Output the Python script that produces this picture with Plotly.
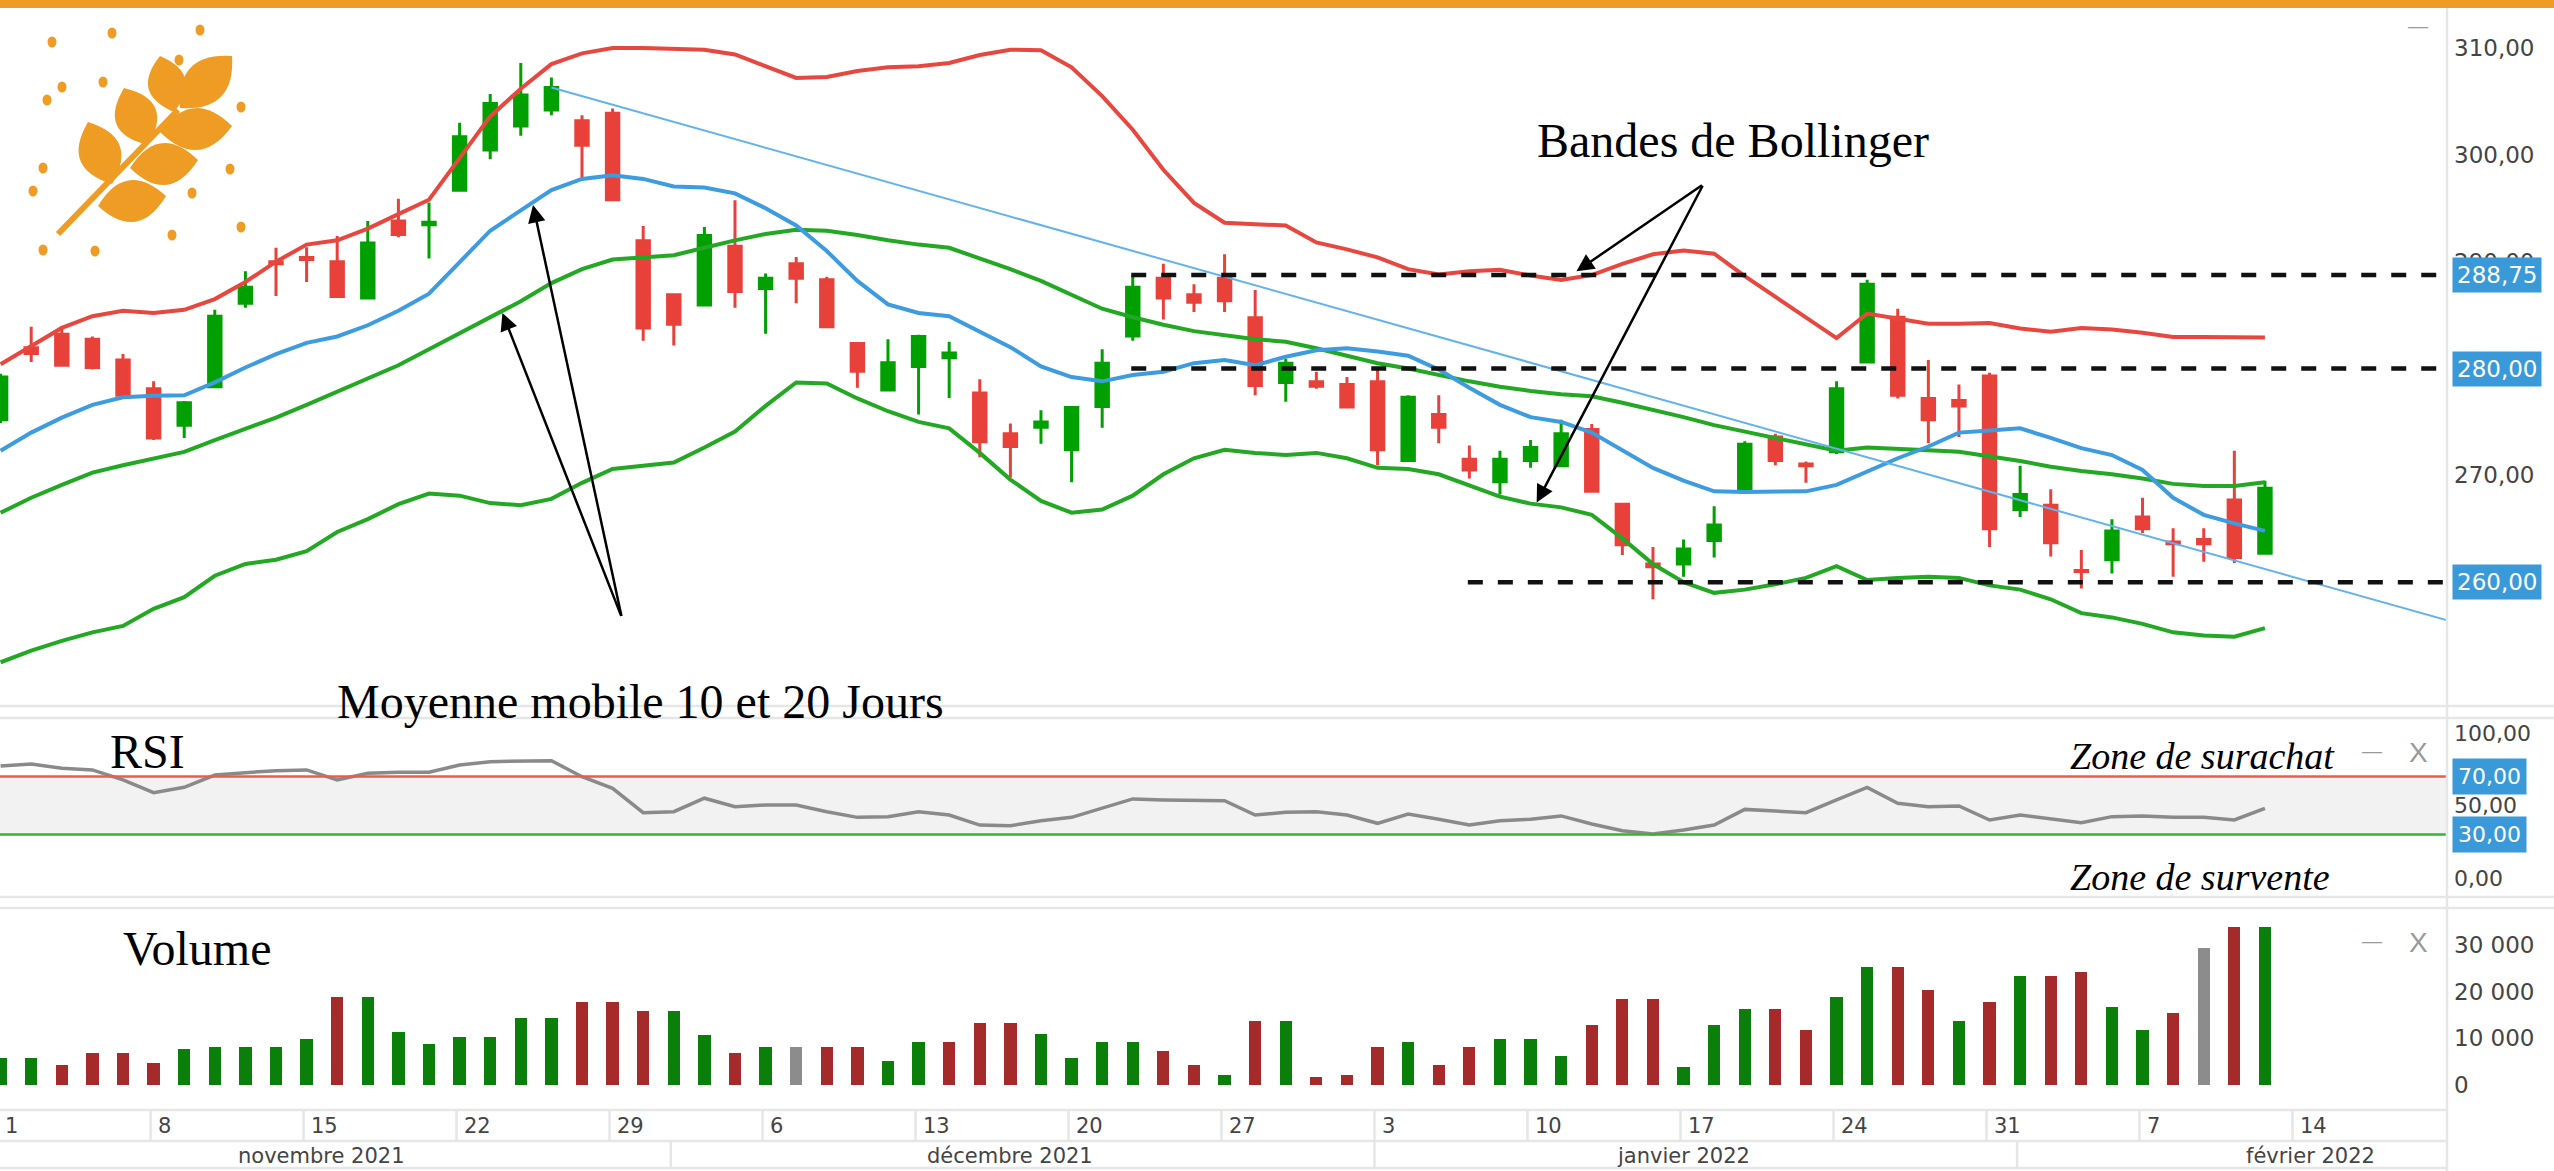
import plotly.graph_objects as go
import pandas as pd

W, H = 2554, 1171

# ---------------- data ----------------
calendar = pd.bdate_range("2021-11-01", "2022-02-28")
dates = pd.bdate_range("2021-11-01", "2022-02-11")

open_ = [275.2, 281.95, 283.2, 282.75, 280.8, 278.1, 274.7, 278.3, 286.1, 290.0,
         290.4, 290.0, 286.6, 293.8, 293.45, 296.7, 300.45, 302.7, 304.2, 303.2,
         303.9, 291.95, 286.9, 285.95, 291.45, 287.5, 289.8, 288.3, 282.35, 278.0,
         280.2, 281.0, 277.7, 273.9, 274.5, 272.4, 276.45, 283.05, 288.45, 286.9,
         288.45, 284.75, 278.7, 278.75, 278.5, 278.75, 271.4, 275.7, 271.5, 269.4,
         271.4, 270.9, 274.3, 267.3, 261.7, 261.7, 263.9, 268.6, 273.6, 271.05,
         272.2, 280.6, 284.8, 277.2, 277.0, 279.3, 266.8, 267.2, 261.1, 262.1,
         266.1, 263.75, 264.0, 267.7, 262.7]
high = [279.5, 283.9, 283.95, 283.0, 281.35, 278.8, 276.95, 285.5, 289.1, 291.3,
        291.35, 292.4, 293.8, 295.9, 295.55, 303.0, 305.7, 308.6, 307.25, 303.7,
        304.35, 293.35, 286.9, 293.25, 295.75, 288.9, 290.45, 288.6, 282.35, 282.75,
        283.15, 282.5, 279.0, 274.85, 276.1, 276.4, 281.8, 288.7, 289.8, 287.9,
        290.7, 287.35, 280.9, 279.7, 279.2, 280.0, 277.5, 277.5, 272.8, 272.3,
        273.3, 275.2, 274.8, 267.3, 263.3, 264.0, 267.1, 273.2, 273.9, 271.3,
        278.8, 288.3, 285.6, 280.8, 278.5, 279.6, 270.9, 268.7, 263.0, 265.9,
        267.9, 265.05, 265.05, 272.3, 269.5]
low = [274.9, 280.6, 280.2, 279.9, 277.3, 273.3, 273.5, 278.2, 285.7, 286.8,
       288.1, 286.6, 286.6, 292.3, 290.3, 296.6, 299.6, 301.8, 303.7, 297.8,
       295.7, 282.6, 282.15, 285.9, 285.7, 283.25, 286.1, 283.8, 278.2, 277.9,
       275.7, 277.25, 271.7, 269.8, 272.95, 269.35, 274.45, 282.6, 284.6, 285.3,
       285.3, 277.5, 276.9, 278.1, 276.4, 270.95, 271.3, 273.0, 269.7, 268.2,
       270.7, 270.9, 268.5, 262.55, 258.4, 260.5, 262.3, 268.5, 270.95, 269.3,
       272.0, 280.5, 277.2, 273.0, 273.6, 263.3, 266.1, 262.4, 259.4, 260.8,
       264.6, 260.5, 261.9, 261.8, 262.7]
close = [279.2, 281.4, 280.3, 280.1, 277.5, 273.5, 276.8, 284.9, 287.6, 289.8,
         290.2, 286.75, 291.75, 292.55, 293.7, 301.7, 304.8, 305.6, 306.3, 300.9,
         295.8, 283.8, 284.15, 292.45, 287.2, 288.45, 288.45, 283.9, 279.75, 280.55,
         283.0, 281.45, 273.15, 272.7, 275.0, 276.35, 280.5, 287.6, 286.6, 286.2,
         286.35, 278.4, 280.5, 278.35, 276.4, 272.4, 277.3, 274.5, 270.5, 271.5,
         272.6, 273.9, 268.5, 263.5, 261.45, 263.1, 265.35, 272.9, 271.4, 270.9,
         278.1, 287.9, 277.5, 275.2, 276.5, 265.0, 268.2, 263.7, 261.0, 264.8,
         265.0, 263.6, 263.6, 262.3, 268.8]

bb_upper = [280.4, 282.1, 283.8, 284.9, 285.4, 285.2, 285.5, 286.5, 288.1, 290.0,
            291.6, 292.0, 293.1, 294.45, 295.8, 299.7, 303.6, 306.2, 308.5, 309.5,
            310.0, 310.0, 309.9, 309.85, 309.4, 308.25, 307.2, 307.3, 307.85, 308.2,
            308.3, 308.6, 309.35, 309.85, 309.8, 308.2, 305.5, 302.35, 298.6, 295.5,
            293.65, 293.5, 293.4, 291.8, 291.15, 290.4, 289.3, 288.8, 289.1, 289.25,
            288.7, 288.3, 288.75, 289.8, 290.7, 291.05, 290.75, 288.65, 286.7, 284.7,
            282.85, 285.15, 284.7, 284.2, 284.2, 284.25, 283.75, 283.45, 283.8, 283.65,
            283.35, 282.95, 282.95, 282.95, 282.9]
ma10 = [272.3, 274.0, 275.4, 276.6, 277.3, 277.45, 277.5, 278.7, 280.1, 281.35,
        282.4, 283.0, 284.05, 285.4, 287.0, 289.95, 292.9, 294.8, 296.7, 297.75,
        298.1, 297.75, 297.05, 296.95, 296.4, 295.0, 293.4, 291.0, 288.2, 286.0,
        285.2, 284.9, 283.5, 282.0, 280.2, 279.2, 278.8, 279.4, 279.7, 280.5,
        280.8, 280.3, 281.1, 281.7, 281.9, 281.6, 281.2, 279.9, 278.2, 276.6,
        275.45, 275.0, 274.0, 272.3, 270.7, 269.5, 268.5, 268.45, 268.45, 268.5,
        269.1, 270.35, 271.6, 272.7, 274.0, 274.2, 274.4, 273.5, 272.55, 271.9,
        270.5, 267.9, 266.3, 265.5, 264.8]
ma20 = [266.5, 267.9, 269.1, 270.25, 270.95, 271.6, 272.2, 273.3, 274.35, 275.4,
        276.6, 277.8, 279.1, 280.3, 281.8, 283.3, 284.8, 286.3, 288.0, 289.3,
        290.2, 290.4, 290.6, 291.3, 292.0, 292.6, 293.0, 292.9, 292.5, 292.0,
        291.6, 291.3, 290.3, 289.3, 288.2, 286.9, 285.6, 284.8, 284.1, 283.5,
        283.1, 282.75, 282.5, 281.9, 281.2, 280.5, 280.0, 279.4, 278.8, 278.3,
        277.9, 277.6, 277.4, 276.8, 276.15, 275.45, 274.7, 274.1, 273.5, 272.9,
        272.3, 272.6, 272.5, 272.35, 272.2, 271.8, 271.35, 270.8, 270.4, 270.1,
        269.7, 269.2, 269.0, 269.0, 269.35]
bb_lower = [252.5, 253.6, 254.5, 255.3, 255.9, 257.5, 258.6, 260.6, 261.7, 262.1,
            262.9, 264.7, 265.9, 267.3, 268.3, 268.1, 267.4, 267.2, 267.8, 269.3,
            270.6, 270.9, 271.2, 272.6, 274.1, 276.5, 278.7, 278.6, 277.2, 276.0,
            275.0, 274.4, 272.1, 269.6, 267.6, 266.5, 266.8, 268.1, 270.1, 271.6,
            272.4, 272.1, 271.9, 272.1, 271.6, 270.7, 270.6, 270.1, 269.0, 268.0,
            267.35, 267.0, 266.3, 264.1, 261.7, 260.0, 259.0, 259.3, 259.8, 260.4,
            261.5, 260.2, 260.4, 260.5, 260.4, 259.7, 259.3, 258.4, 257.1, 256.7,
            256.1, 255.3, 255.0, 254.9, 255.7]

rsi = [77.2, 78.6, 75.6, 74.5, 67.6, 58.8, 62.5, 71.0, 72.6, 74.0,
       74.5, 67.6, 72.2, 72.9, 72.9, 77.9, 80.2, 80.7, 80.9, 69.8,
       61.8, 45.0, 45.7, 55.0, 49.2, 50.3, 50.3, 45.7, 41.8, 42.3,
       45.7, 43.4, 36.5, 36.1, 39.5, 41.8, 48.0, 54.5, 53.8, 53.3,
       53.3, 43.4, 45.3, 45.7, 43.4, 37.7, 44.1, 40.5, 36.5, 39.5,
       40.5, 42.8, 37.2, 32.6, 30.3, 33.1, 36.5, 47.3, 46.4, 45.0,
       53.8, 62.5, 51.5, 49.2, 49.7, 40.0, 43.4, 40.5, 38.1, 42.3,
       42.8, 41.8, 41.8, 40.0, 48.0]

volume = [5700, 5700, 4280, 6780, 6780, 4780, 7710, 8210, 8210, 8210,
          9780, 18920, 18920, 11280, 8780, 10210, 10210, 14280, 14280, 17850,
          17850, 15850, 15850, 10710, 6780, 8210, 8210, 8210, 8210, 5210,
          9280, 9280, 13350, 13350, 10850, 5710, 9280, 9280, 7280, 4280,
          2140, 13780, 13780, 1780, 2140, 8210, 9280, 4280, 8210, 9780,
          9780, 6210, 12850, 18350, 18350, 3780, 12850, 16200, 16200, 11780,
          18920, 25340, 25340, 20340, 13780, 17850, 23340, 23340, 24270, 16780,
          11780, 15350, 29270, 33900, 33900]

levels = [288.75, 280.00, 260.00]
level_start = ["2021-12-22", "2021-12-22", "2022-01-06"]
trend_dates = ["2021-11-25", "2022-02-21"]
trend_values = [306.3, 256.4]
price_ticks = [260, 270, 280, 290, 300, 310]
rsi_ticks = [0, 50, 100]
rsi_bounds = [30, 70]
vol_ticks = [0, 10000, 20000, 30000]
month_names = ["janvier", "février", "mars", "avril", "mai", "juin", "juillet",
               "août", "septembre", "octobre", "novembre", "décembre"]

n = len(dates)
for arr in (open_, high, low, close, bb_upper, ma10, ma20, bb_lower, rsi, volume):
    assert len(arr) == n, len(arr)

pos = {d: i for i, d in enumerate(calendar)}
x = [pos[d] for d in dates]

# ---------------- styles ----------------
GREEN_C = "#00a000"
RED_C = "#e8413a"
RED_L = "#e8473f"
BLUE_L = "#3d9be0"
GREEN_L = "#22a822"
VOL_G, VOL_R, VOL_N = "#0a800a", "#a52a2a", "#8c8c8c"
ORANGE = "#ef9c25"
SEP = "#e6e6e6"
LBL = "#444444"
AXFONT = "DejaVu Sans"
SERIF = "Liberation Serif"
BOXBLUE = "#3a9ad9"

def px(v):
    return v / W

def py(v):
    return 1 - v / H

XR = [-0.02, 79.95]
XDOM = [0, 2447 / W]

prev = [open_[0]] + close[:-1]
vol_colors = [VOL_G if c > p else (VOL_R if c < p else VOL_N) for c, p in zip(close, prev)]

fig = go.Figure()

# price panel
fig.add_trace(go.Candlestick(
    x=x, open=open_, high=high, low=low, close=close, xaxis="x", yaxis="y",
    increasing=dict(line=dict(color=GREEN_C, width=3), fillcolor=GREEN_C),
    decreasing=dict(line=dict(color=RED_C, width=3), fillcolor=RED_C),
    whiskerwidth=0, showlegend=False, hoverinfo="skip"))
for series, col in ((bb_upper, RED_L), (bb_lower, GREEN_L), (ma20, GREEN_L), (ma10, BLUE_L)):
    fig.add_trace(go.Scatter(x=x, y=series, mode="lines", xaxis="x", yaxis="y",
                             line=dict(color=col, width=4), showlegend=False, hoverinfo="skip"))
fig.add_trace(go.Scatter(x=[pos[pd.Timestamp(d)] for d in trend_dates], y=trend_values,
                         mode="lines", xaxis="x", yaxis="y",
                         line=dict(color="#62b2ec", width=2), showlegend=False, hoverinfo="skip"))
for lv, st in zip(levels, level_start):
    fig.add_trace(go.Scatter(x=[pos[pd.Timestamp(st)] - 0.05, XR[1] + 1], y=[lv, lv],
                             mode="lines", xaxis="x", yaxis="y",
                             line=dict(color="#111111", width=4.5, dash="15px,15px"),
                             showlegend=False, hoverinfo="skip"))

# RSI panel
fig.add_trace(go.Scatter(x=x, y=rsi, mode="lines", xaxis="x2", yaxis="y2",
                         line=dict(color="#8a8a8a", width=3.5), showlegend=False, hoverinfo="skip"))

# volume panel
fig.add_trace(go.Bar(x=x, y=volume, marker=dict(color=vol_colors, line=dict(width=0)),
                     width=0.4, xaxis="x3", yaxis="y3", showlegend=False, hoverinfo="skip"))

axis_common = dict(showgrid=False, zeroline=False, showline=False, ticks="")
yfont = dict(family=AXFONT, size=23, color=LBL)

fig.update_layout(
    width=W, height=H, margin=dict(l=0, r=0, t=0, b=0),
    paper_bgcolor="white", plot_bgcolor="white",
    separators=", ", boxgap=0.42, bargap=0,
    showlegend=False,
    xaxis=dict(domain=XDOM, range=XR, visible=False, anchor="y", rangeslider=dict(visible=False)),
    xaxis2=dict(domain=XDOM, range=XR, visible=False, anchor="y2"),
    xaxis3=dict(domain=XDOM, range=XR, visible=False, anchor="y3"),
    yaxis=dict(domain=[py(705), py(8)], range=[248.5, 313.75], side="right", anchor="x",
               tickvals=price_ticks, tickformat=".2f", tickfont=yfont,
               ticklabelstandoff=6, **axis_common),
    yaxis2=dict(domain=[py(897), py(718)], range=[-13.1, 110.3], side="right", anchor="x2",
                tickvals=rsi_ticks, tickformat=".2f", tickfont=dict(family=AXFONT, size=22, color=LBL),
                ticklabelstandoff=6, **axis_common),
    yaxis3=dict(domain=[py(1110), py(908)], range=[-5350, 37900], side="right", anchor="x3",
                tickvals=vol_ticks, tickformat=",.0f", tickfont=yfont,
                ticklabelstandoff=6, **axis_common),
)

shapes = []
# orange top bar
shapes.append(dict(type="rect", xref="paper", yref="paper", x0=0, x1=1, y0=py(8), y1=1,
                   fillcolor=ORANGE, line=dict(width=0), layer="above"))
# RSI zone band and bounds
shapes.append(dict(type="rect", xref="x2 domain", yref="y2", x0=0, x1=1,
                   y0=rsi_bounds[0], y1=rsi_bounds[1], fillcolor="#f2f2f2",
                   line=dict(width=0), layer="below"))
shapes.append(dict(type="line", xref="x2 domain", yref="y2", x0=0, x1=1,
                   y0=rsi_bounds[1], y1=rsi_bounds[1], line=dict(color="#ee5a52", width=2.5)))
shapes.append(dict(type="line", xref="x2 domain", yref="y2", x0=0, x1=1,
                   y0=rsi_bounds[0], y1=rsi_bounds[0], line=dict(color="#33b533", width=2.5)))
# panel separators
for yy in (706, 718, 897, 908):
    shapes.append(dict(type="line", xref="paper", yref="paper", x0=0, x1=1, y0=py(yy), y1=py(yy),
                       line=dict(color=SEP, width=2.5)))
for yy in (1110, 1141, 1168):
    shapes.append(dict(type="line", xref="paper", yref="paper", x0=0, x1=px(2447), y0=py(yy), y1=py(yy),
                       line=dict(color=SEP, width=2.5)))
shapes.append(dict(type="line", xref="paper", yref="paper", x0=px(2447), x1=px(2447), y0=0, y1=py(8),
                   line=dict(color=SEP, width=2.5)))

annotations = []
# day ticks (Mondays) and month rows
for i, d in enumerate(calendar):
    if i > XR[1]:
        break
    if d.weekday() == 0:
        shapes.append(dict(type="line", xref="x3", yref="paper", x0=i - 0.1, x1=i - 0.1,
                           y0=py(1141), y1=py(1110), line=dict(color=SEP, width=2.5)))
        annotations.append(dict(x=i, xref="x3", y=py(1126), yref="paper", text=str(d.day),
                                xanchor="left", yanchor="middle", xshift=2, showarrow=False,
                                font=dict(family=AXFONT, size=21, color=LBL)))
months = {}
for i, d in enumerate(calendar):
    months.setdefault((d.year, d.month), []).append(i)
for (yr, mo), idxs in months.items():
    first, last = idxs[0], idxs[-1]
    if first > 0:
        shapes.append(dict(type="line", xref="x3", yref="paper", x0=first - 0.1, x1=first - 0.1,
                           y0=py(1168), y1=py(1141), line=dict(color=SEP, width=2.5)))
    annotations.append(dict(x=(first + last) / 2, xref="x3", y=py(1156), yref="paper",
                            text=f"{month_names[mo - 1]} {yr}", showarrow=False,
                            xanchor="center", yanchor="middle",
                            font=dict(family=AXFONT, size=21, color=LBL)))

# logo (wheat ear)
def leaf(bx, by, tx, ty, hw):
    mx, my = (bx + tx) / 2, (by + ty) / 2
    dx, dy = tx - bx, ty - by
    L = (dx * dx + dy * dy) ** 0.5
    nx, ny = -dy / L * 2 * hw, dx / L * 2 * hw
    pts = [(bx, by), (mx + nx, my + ny), (tx, ty), (mx - nx, my - ny)]
    p = [(px(a), py(b)) for a, b in pts]
    return (f"M {p[0][0]},{p[0][1]} Q {p[1][0]},{p[1][1]} {p[2][0]},{p[2][1]} "
            f"Q {p[3][0]},{p[3][1]} {p[0][0]},{p[0][1]} Z")

leaves = [(180, 108, 232, 56, 21), (174, 112, 160, 56, 19), (160, 132, 232, 126, 21),
          (148, 145, 124, 88, 21), (130, 168, 198, 160, 21), (112, 184, 88, 122, 21),
          (98, 206, 166, 196, 21)]
for bx, by, tx, ty, hw in leaves:
    shapes.append(dict(type="path", xref="paper", yref="paper", path=leaf(bx, by, tx, ty, hw),
                       fillcolor=ORANGE, line=dict(width=0)))
shapes.append(dict(type="line", xref="paper", yref="paper", x0=px(58), y0=py(234), x1=px(178),
                   y1=py(110), line=dict(color=ORANGE, width=6)))
dots = [(52, 42), (112, 33), (200, 30), (179, 60), (62, 87), (103, 82), (47, 100), (241, 107),
        (43, 168), (230, 169), (33, 191), (192, 193), (241, 227), (172, 235), (43, 250), (95, 251)]
for dx_, dy_ in dots:
    shapes.append(dict(type="circle", xref="paper", yref="paper", x0=px(dx_ - 4.5), x1=px(dx_ + 4.5),
                       y0=py(dy_ + 5.5), y1=py(dy_ - 5.5), fillcolor=ORANGE, line=dict(width=0)))

# price level boxes
for lv in levels:
    annotations.append(dict(x=px(2452), xref="paper", y=lv, yref="y", text=f"{lv:.2f}".replace(".", ","),
                            xanchor="left", yanchor="middle", showarrow=False, bgcolor=BOXBLUE,
                            borderpad=4, font=dict(family=AXFONT, size=23, color="white")))
for b in rsi_bounds:
    annotations.append(dict(x=px(2452), xref="paper", y=b, yref="y2", text=f"{b:.2f}".replace(".", ","),
                            xanchor="left", yanchor="middle", showarrow=False, bgcolor=BOXBLUE,
                            borderpad=5, font=dict(family=AXFONT, size=22, color="white")))

# text labels
def txt(t, xx, yy, size=48, italic=False):
    annotations.append(dict(x=px(xx), y=py(yy), xref="paper", yref="paper",
                            text=f"<i>{t}</i>" if italic else t, showarrow=False,
                            xanchor="center", yanchor="middle",
                            font=dict(family=SERIF, size=size, color="black")))

txt("Bandes de Bollinger", 1733, 141)
txt("Moyenne mobile 10 et 20 Jours", 640, 701)
txt("RSI", 147, 751)
txt("Volume", 197, 948)
txt("Zone de surachat", 2202, 756, size=38, italic=True)
txt("Zone de survente", 2200, 877, size=38, italic=True)

# arrows
def arrow(hx, hy, tx, ty):
    annotations.append(dict(x=hx, y=hy, xref="x", yref="y", ax=tx, ay=ty, axref="x", ayref="y",
                            text="", showarrow=True, arrowhead=2, arrowsize=1.4, arrowwidth=2.5,
                            arrowcolor="black", standoff=0, startstandoff=0))

arrow(17.4, 295.3, 20.3, 256.7)
arrow(16.4, 285.2, 20.3, 256.7)
arrow(51.5, 289.1, 55.65, 297.25)
arrow(50.2, 267.45, 55.65, 297.25)

# window icons
def icon(t, xx, yy, size=24):
    annotations.append(dict(x=px(xx), y=py(yy), xref="paper", yref="paper", text=t, showarrow=False,
                            xanchor="center", yanchor="middle",
                            font=dict(family="Liberation Sans", size=size, color="#9a9a9a")))

icon("—", 2418, 26, 20)
icon("—", 2372, 751, 20)
icon("X", 2418, 752, 28)
icon("—", 2372, 941, 20)
icon("X", 2418, 942, 28)

fig.update_layout(shapes=shapes, annotations=annotations)

fig.write_html("out.html", config={"displayModeBar": False},
               post_script="document.body.style.margin='0';document.body.style.overflow='hidden';")
